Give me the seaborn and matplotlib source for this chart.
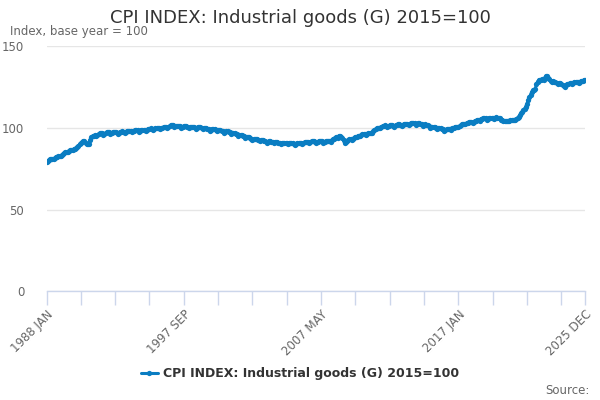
import matplotlib
matplotlib.use("Agg")
import matplotlib.pyplot as plt
import seaborn as sns
import pandas as pd
import numpy as np

title = "CPI INDEX: Industrial goods (G) 2015=100"
subtitle = "Index, base year = 100"
series_name = "CPI INDEX: Industrial goods (G) 2015=100"
source_text = "Source:"

start_year = 1988
month_names = ["JAN", "FEB", "MAR", "APR", "MAY", "JUN",
               "JUL", "AUG", "SEP", "OCT", "NOV", "DEC"]

y1988 = [79.4, 79.8, 80.3, 80.8, 81.1, 81.3, 81.0, 81.7, 82.2, 82.5, 82.7, 82.8]
y1989 = [82.6, 83.3, 84.0, 84.7, 85.2, 85.5, 85.2, 85.8, 86.3, 86.6, 86.8, 86.9]
y1990 = [87.0, 87.8, 88.5, 89.2, 90.1, 90.8, 91.3, 92.0, 92.2, 91.0, 90.2, 90.0]
y1991 = [90.5, 92.6, 94.5, 95.0, 95.4, 95.6, 95.2, 95.9, 96.4, 96.7, 96.8, 96.8]
y1992 = [95.9, 96.6, 97.0, 97.4, 97.5, 97.4, 96.6, 97.2, 97.5, 97.6, 97.6, 97.4]
y1993 = [96.3, 96.9, 97.4, 97.8, 97.9, 97.8, 96.9, 97.6, 98.2, 98.4, 98.4, 98.2]
y1994 = [97.3, 97.9, 98.3, 98.7, 98.8, 98.7, 97.8, 98.4, 98.9, 99.1, 99.1, 98.9]
y1995 = [98.1, 98.8, 99.3, 99.7, 99.8, 99.7, 98.8, 99.4, 99.9, 100.1, 100.1, 99.9]
y1996 = [99.2, 99.8, 100.3, 100.7, 100.8, 100.7, 99.9, 100.6, 101.3, 101.7, 101.8, 101.6]
y1997 = [100.6, 101.0, 101.3, 101.3, 101.2, 101.0, 100.2, 100.7, 101.1, 101.2, 101.1, 100.9]
y1998 = [100.0, 100.6, 100.9, 100.9, 100.8, 100.6, 99.7, 100.2, 100.6, 100.6, 100.5, 100.3]
y1999 = [99.3, 99.8, 100.0, 99.9, 99.7, 99.4, 98.5, 99.0, 99.4, 99.4, 99.3, 99.1]
y2000 = [98.1, 98.6, 98.8, 98.6, 98.3, 97.9, 97.0, 97.6, 98.0, 97.9, 97.7, 97.5]
y2001 = [96.4, 96.9, 97.0, 96.8, 96.5, 96.1, 95.1, 95.6, 95.9, 95.7, 95.4, 95.1]
y2002 = [94.0, 94.5, 94.6, 94.3, 93.9, 93.5, 92.6, 93.1, 93.4, 93.3, 93.1, 92.8]
y2003 = [91.9, 92.4, 92.6, 92.4, 92.1, 91.8, 91.0, 91.6, 92.0, 91.9, 91.7, 91.4]
y2004 = [90.7, 91.2, 91.4, 91.3, 91.0, 90.8, 90.0, 90.6, 91.0, 91.0, 90.9, 90.7]
y2005 = [90.0, 90.6, 90.9, 90.9, 90.7, 90.5, 89.8, 90.5, 91.0, 91.1, 91.0, 90.8]
y2006 = [90.3, 90.9, 91.3, 91.6, 91.7, 91.6, 90.9, 91.5, 92.0, 91.9, 91.8, 91.6]
y2007 = [91.0, 91.6, 92.0, 92.1, 92.0, 91.8, 91.0, 91.6, 92.0, 92.1, 92.1, 92.0]
y2008 = [91.6, 92.4, 93.0, 93.6, 94.2, 94.6, 94.2, 95.0, 95.3, 94.8, 93.8, 92.4]
y2009 = [90.6, 91.6, 92.2, 92.7, 93.1, 93.3, 92.8, 93.6, 94.2, 94.6, 94.8, 94.9]
y2010 = [94.9, 95.3, 95.8, 96.2, 96.4, 96.3, 95.6, 96.3, 96.8, 97.0, 97.1, 97.1]
y2011 = [97.9, 98.6, 99.2, 99.8, 100.2, 100.3, 99.8, 100.7, 101.2, 101.5, 101.6, 101.5]
y2012 = [100.7, 101.2, 101.6, 101.9, 101.8, 101.5, 100.9, 101.6, 102.1, 102.3, 102.3, 102.1]
y2013 = [101.5, 102.1, 102.5, 102.7, 102.7, 102.5, 101.9, 102.6, 103.0, 103.1, 103.1, 103.0]
y2014 = [102.0, 102.6, 102.8, 102.8, 102.6, 102.4, 101.5, 102.0, 102.2, 101.9, 101.6, 101.2]
y2015 = [100.1, 100.5, 100.6, 100.6, 100.4, 100.2, 99.3, 99.8, 100.0, 99.8, 99.7, 99.4]
y2016 = [98.5, 98.8, 99.2, 99.4, 99.4, 99.5, 99.0, 99.8, 100.3, 100.6, 100.8, 100.9]
y2017 = [100.6, 101.3, 101.8, 102.2, 102.5, 102.6, 102.2, 102.9, 103.4, 103.6, 103.7, 103.7]
y2018 = [103.4, 104.0, 104.3, 104.6, 104.9, 105.1, 104.6, 105.3, 105.8, 106.0, 106.1, 106.0]
y2019 = [105.2, 105.8, 106.1, 106.3, 106.4, 106.3, 105.6, 106.2, 106.5, 106.3, 106.3, 106.1]
y2020 = [105.0, 105.1, 104.5, 104.6, 104.2, 104.4, 104.5, 104.3, 104.7, 104.9, 105.0, 105.0]
y2021 = [104.8, 105.4, 106.2, 107.0, 108.0, 109.0, 109.8, 110.8, 111.8, 113.2, 115.0, 117.0]
y2022 = [118.8, 120.5, 122.0, 123.0, 123.5, 124.0, 127.0, 128.5, 129.3, 129.7, 129.6, 129.9]
y2023 = [129.4, 130.8, 131.8, 131.6, 130.8, 129.8, 128.6, 128.3, 128.7, 128.3, 127.9, 127.5]
y2024 = [126.8, 127.4, 127.7, 127.2, 126.4, 125.8, 125.3, 126.1, 126.8, 127.1, 127.3, 127.4]
y2025 = [126.9, 127.6, 128.0, 128.2, 128.4, 128.3, 127.8, 128.5, 128.9, 129.1, 129.3, 129.4]

years_data = [y1988, y1989, y1990, y1991, y1992, y1993, y1994, y1995, y1996, y1997,
              y1998, y1999, y2000, y2001, y2002, y2003, y2004, y2005, y2006, y2007,
              y2008, y2009, y2010, y2011, y2012, y2013, y2014, y2015, y2016, y2017,
              y2018, y2019, y2020, y2021, y2022, y2023, y2024, y2025]

values = [v for yr in years_data for v in yr]
labels = [f"{start_year + i // 12} {month_names[i % 12]}" for i in range(len(values))]
df = pd.DataFrame({"idx": np.arange(len(values)), "label": labels, "value": values,
                   "series": series_name})

y_ticks = [0, 50, 100, 150]

sns.set_theme(style="white")
plt.rcParams['font.family'] = ['DejaVu Sans']

line_color = "#0a7dc2"
grey = "#666666"

fig = plt.figure(figsize=(6, 4), dpi=100)
ax = fig.add_axes([0.0775, 0.2715, 0.8975, 0.6125])

sns.lineplot(data=df, x="idx", y="value", hue="series", palette=[line_color],
             marker="o", markersize=3.8, markeredgewidth=0, linewidth=2.2, ax=ax,
             legend=True)

n = len(values)
ax.set_xlim(0, n - 1)
ax.set_ylim(0, 150)
ax.set_yticks(y_ticks)
ax.set_yticklabels([str(t) for t in y_ticks], color=grey, fontsize=8.5)
ax.grid(axis="y", color="#e6e6e6", linewidth=1)
ax.set_axisbelow(True)

minor_positions = list(range(0, n, 29)) + [n - 1]
label_positions = [0, 116, 232, 348, n - 1]
ax.set_xticks(minor_positions)
ax.set_xticklabels([labels[p] if p in label_positions else "" for p in minor_positions],
                   rotation=45, ha="right", rotation_mode="anchor",
                   color=grey, fontsize=8.5)
ax.tick_params(axis="x", length=10, width=1, color="#ccd6eb", pad=2, bottom=True)
ax.tick_params(axis="y", length=0, pad=16)
for lbl in ax.get_yticklabels():
    lbl.set_horizontalalignment("right")

for side in ["top", "right", "left"]:
    ax.spines[side].set_visible(False)
ax.spines["bottom"].set_color("#ccd6eb")
ax.spines["bottom"].set_linewidth(1)
ax.set_xlabel("")
ax.set_ylabel("")

fig.text(0.5, 0.955, title, ha="center", va="center", fontsize=13, color="#333333")
fig.text(0.017, 0.92, subtitle, ha="left", va="center", fontsize=8.5, color=grey)
fig.text(0.982, 0.025, source_text, ha="right", va="center", fontsize=8.5, color=grey)

leg = ax.legend(loc="center", bbox_to_anchor=(0.5, 0.066), bbox_transform=fig.transFigure,
                frameon=False, fontsize=9, handlelength=1.4, handletextpad=0.4)
for t in leg.get_texts():
    t.set_fontweight("bold")
    t.set_color("#333333")

fig.savefig("out.png", dpi=100)
